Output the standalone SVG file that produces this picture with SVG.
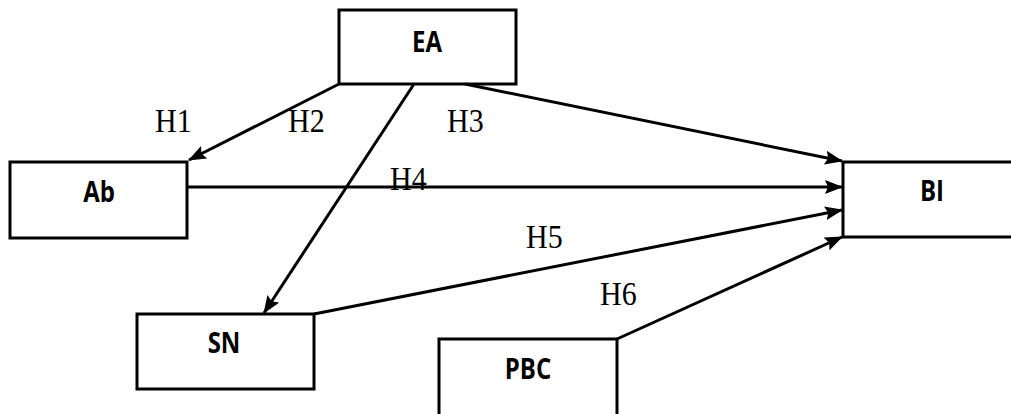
<svg xmlns="http://www.w3.org/2000/svg" width="1011" height="414" viewBox="0 0 1011 414">
<style>
.box{fill:#fff;stroke:#000;stroke-width:3}
.nt{font-family:"Open Sans","Liberation Sans",sans-serif;font-weight:bold;font-size:24px;text-anchor:middle;fill:#000}
.lb{font-family:"Liberation Serif","Times New Roman",serif;font-size:30px;fill:#000}
.cn{stroke:#000;stroke-width:3;fill:none;marker-end:url(#ah)}
</style>
<defs>
<marker id="ah" viewBox="0 0 18 14" refX="17" refY="7" markerWidth="18" markerHeight="14" markerUnits="userSpaceOnUse" orient="auto">
<path d="M0,0 L18,7 L0,14 L3,7 Z" fill="#000"/>
</marker>
</defs>
<rect width="1011" height="414" fill="#fff"/>
<g id="EA"><rect class="box" x="339" y="10" width="177" height="74"/><text class="nt" transform="translate(427,52) scale(1,1.2)">EA</text></g>
<g id="Ab"><rect class="box" x="10" y="162" width="177" height="76"/><text class="nt" transform="translate(99,202) scale(1,1.2)">Ab</text></g>
<g id="BI"><rect class="box" x="843" y="162" width="175" height="75"/><text class="nt" transform="translate(932,201) scale(1,1.2)">BI</text></g>
<g id="SN"><rect class="box" x="137" y="314" width="177" height="75"/><text class="nt" transform="translate(224,353) scale(1,1.2)">SN</text></g>
<g id="PBC"><rect class="box" x="439" y="339" width="178" height="85"/><text class="nt" transform="translate(528,379) scale(1,1.2)">PBC</text></g>
<g id="connectors">
<line class="cn" x1="339" y1="84" x2="189" y2="160"/>
<line class="cn" x1="414" y1="84" x2="264" y2="313"/>
<line class="cn" x1="465" y1="84" x2="842" y2="161"/>
<line class="cn" x1="187" y1="187" x2="842" y2="187"/>
<line class="cn" x1="314" y1="314" x2="842" y2="210"/>
<line class="cn" x1="617" y1="339" x2="842" y2="237"/>
</g>
<g id="labels">
<text class="lb" transform="translate(155,132) scale(1,1.12)">H1</text>
<text class="lb" transform="translate(288,132) scale(1,1.12)">H2</text>
<text class="lb" transform="translate(447,132) scale(1,1.12)">H3</text>
<text class="lb" transform="translate(390,190) scale(1,1.12)">H4</text>
<text class="lb" transform="translate(526,248) scale(1,1.12)">H5</text>
<text class="lb" transform="translate(600,305) scale(1,1.12)">H6</text>
</g>
</svg>
